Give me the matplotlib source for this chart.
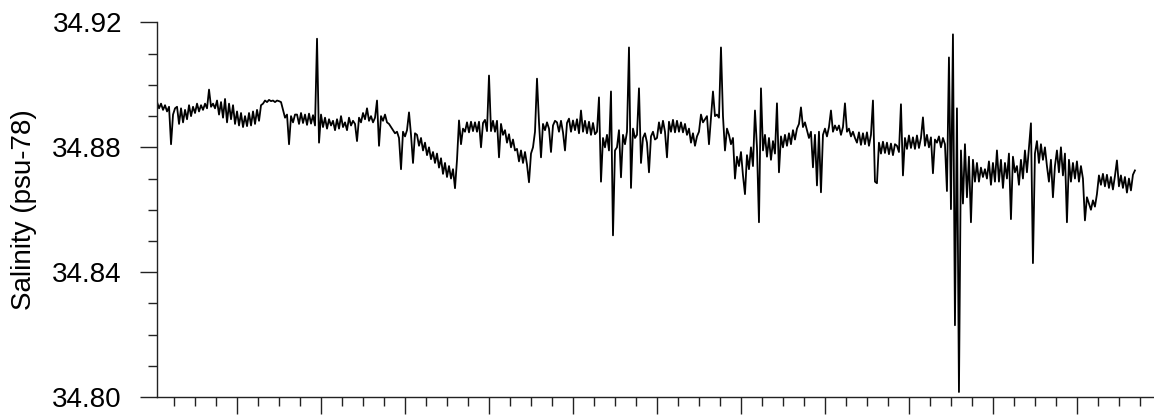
import numpy as np
import matplotlib
matplotlib.use("Agg")
import matplotlib.pyplot as plt
from matplotlib.ticker import MultipleLocator, FormatStrFormatter

plt.rcParams['font.family'] = ['Liberation Sans', 'DejaVu Sans']

sal_west = [
    34.8945, 34.8925, 34.8940, 34.8920, 34.8935, 34.8915, 34.8930, 34.8810, 34.8905, 34.8925,
    34.8930, 34.8875, 34.8925, 34.8880, 34.8920, 34.8890, 34.8935, 34.8900, 34.8930, 34.8910,
    34.8940, 34.8915, 34.8935, 34.8920, 34.8940, 34.8925, 34.8985, 34.8930, 34.8940, 34.8925,
    34.8950, 34.8905, 34.8945, 34.8895, 34.8955, 34.8880, 34.8940, 34.8890, 34.8935, 34.8875,
    34.8915, 34.8870, 34.8910, 34.8865, 34.8900, 34.8868, 34.8910, 34.8870, 34.8915, 34.8875,
    34.8920, 34.8885, 34.8935, 34.8940, 34.8950, 34.8945, 34.8952, 34.8948, 34.8950, 34.8945,
    34.8950, 34.8948, 34.8945, 34.8920, 34.8895, 34.8905, 34.8810, 34.8900, 34.8880, 34.8905,
    34.8905, 34.8875, 34.8910, 34.8878, 34.8905, 34.8872, 34.8908, 34.8876, 34.8903, 34.8870,
    34.9148, 34.8815, 34.8905, 34.8865, 34.8895, 34.8860, 34.8890, 34.8870, 34.8885, 34.8855,
    34.8890, 34.8860, 34.8900, 34.8865, 34.8880, 34.8855, 34.8895, 34.8870, 34.8885, 34.8875,
    34.8820, 34.8895, 34.8880, 34.8910, 34.8890, 34.8925, 34.8885, 34.8900, 34.8880, 34.8895,
    34.8950, 34.8805, 34.8900, 34.8885, 34.8905, 34.8880, 34.8875, 34.8865, 34.8855, 34.8845,
    34.8850, 34.8830, 34.8730, 34.8850, 34.8835, 34.8855, 34.8912, 34.8840, 34.8750, 34.8845,
    34.8840, 34.8805, 34.8830, 34.8790, 34.8815, 34.8775, 34.8800, 34.8762, 34.8785, 34.8750,
    34.8780, 34.8735, 34.8765, 34.8715, 34.8750, 34.8705, 34.8740, 34.8700, 34.8730, 34.8669,
    34.8760, 34.8886, 34.8810, 34.8860, 34.8850, 34.8880, 34.8848, 34.8882, 34.8852, 34.8880,
]
sal_mid = [
    34.8850, 34.8882, 34.8800, 34.8878, 34.8888, 34.8852, 34.9030, 34.8852, 34.8885, 34.8850,
    34.8885, 34.8768, 34.8875, 34.8840, 34.8855, 34.8815, 34.8842, 34.8800, 34.8825, 34.8790,
    34.8795, 34.8755, 34.8790, 34.8750, 34.8785, 34.8745, 34.8688, 34.8780, 34.8800, 34.8850,
    34.9020, 34.8880, 34.8768, 34.8875, 34.8855, 34.8880, 34.8860, 34.8785, 34.8870, 34.8885,
    34.8880, 34.8850, 34.8885, 34.8848, 34.8790, 34.8878, 34.8892, 34.8850, 34.8886, 34.8855,
    34.8890, 34.8845, 34.8918, 34.8850, 34.8885, 34.8845, 34.8882, 34.8840, 34.8878, 34.8842,
    34.8850, 34.8960, 34.8690, 34.8830, 34.8800, 34.8840, 34.8790, 34.8979, 34.8518, 34.8790,
    34.8800, 34.8855, 34.8704, 34.8840, 34.8810, 34.8850, 34.9120, 34.8670, 34.8860, 34.8830,
    34.8840, 34.8989, 34.8750, 34.8830, 34.8845, 34.8815, 34.8720, 34.8835, 34.8850, 34.8825,
    34.8830, 34.8880, 34.8845, 34.8885, 34.8850, 34.8768, 34.8882, 34.8850, 34.8888, 34.8848,
    34.8885, 34.8850, 34.8880, 34.8848, 34.8875, 34.8840, 34.8860, 34.8815, 34.8845, 34.8805,
    34.8835, 34.8850, 34.8905, 34.8880, 34.8890, 34.8900, 34.8810, 34.8895, 34.8979, 34.8900,
    34.8905, 34.8895, 34.9120, 34.8900, 34.8790, 34.8860, 34.8840, 34.8810, 34.8830, 34.8700,
    34.8770, 34.8740, 34.8785, 34.8710, 34.8650, 34.8775, 34.8730, 34.8800, 34.8740, 34.8918,
    34.8800, 34.8560, 34.8989, 34.8790, 34.8840, 34.8770, 34.8830, 34.8760, 34.8820, 34.8780,
    34.8941, 34.8720, 34.8835, 34.8800, 34.8840, 34.8805, 34.8845, 34.8810, 34.8855, 34.8825,
]
sal_east = [
    34.8860, 34.8875, 34.8928, 34.8865, 34.8880, 34.8855, 34.8830, 34.8850, 34.8736, 34.8840,
    34.8678, 34.8850, 34.8656, 34.8840, 34.8860, 34.8835, 34.8865, 34.8918, 34.8850, 34.8870,
    34.8855, 34.8870, 34.8840, 34.8865, 34.8941, 34.8850, 34.8860, 34.8835, 34.8850, 34.8830,
    34.8815, 34.8848, 34.8808, 34.8845, 34.8810, 34.8848, 34.8805, 34.8840, 34.8950, 34.8690,
    34.8685, 34.8815, 34.8780, 34.8818, 34.8782, 34.8815, 34.8778, 34.8812, 34.8775, 34.8810,
    34.8805, 34.8785, 34.8938, 34.8710, 34.8830, 34.8795, 34.8838, 34.8798, 34.8832, 34.8795,
    34.8838, 34.8798, 34.8830, 34.8896, 34.8805, 34.8840, 34.8800, 34.8832, 34.8717, 34.8825,
    34.8815, 34.8835, 34.8800, 34.8830, 34.8810, 34.8660, 34.9088, 34.8602, 34.9162, 34.8230,
    34.8925, 34.8016, 34.8790, 34.8620, 34.8810, 34.8640, 34.8770, 34.8560, 34.8760, 34.8690,
    34.8750, 34.8690, 34.8735, 34.8705, 34.8730, 34.8700, 34.8755, 34.8680, 34.8750, 34.8690,
    34.8790, 34.8690, 34.8760, 34.8670, 34.8750, 34.8700, 34.8780, 34.8570, 34.8770, 34.8720,
    34.8740, 34.8680, 34.8760, 34.8700, 34.8790, 34.8720, 34.8800, 34.8877, 34.8429, 34.8780,
    34.8820, 34.8750, 34.8810, 34.8760, 34.8800, 34.8740, 34.8690, 34.8760, 34.8640, 34.8740,
    34.8790, 34.8720, 34.8800, 34.8710, 34.8780, 34.8560, 34.8760, 34.8690, 34.8750, 34.8700,
    34.8755, 34.8690, 34.8740, 34.8700, 34.8566, 34.8640, 34.8620, 34.8600, 34.8630, 34.8610,
    34.8650, 34.8710, 34.8680, 34.8715, 34.8675, 34.8712, 34.8670, 34.8705, 34.8665, 34.8708,
    34.8758, 34.8675, 34.8710, 34.8670, 34.8705, 34.8655, 34.8700, 34.8662, 34.8712, 34.8726,
]

# record start / end (axis units, one major tick per unit)
t_first = 0.048
t_last = 11.69

y_ticks = [34.80, 34.84, 34.88, 34.92]

#%%
sal = np.array(sal_west + sal_mid + sal_east)
t = np.linspace(t_first, t_last, len(sal))

fig = plt.figure(figsize=(11.54, 4.15), dpi=100)
ax = fig.add_axes([156.7 / 1154, 18 / 415, 1 - 156.7 / 1154, 374.5 / 415])

ax.plot(t, sal, color='black', linewidth=1.3)

ax.set_xlim(0.044, 11.917)
ax.set_ylim(34.80, 34.92)

ax.set_yticks(y_ticks)
ax.yaxis.set_major_formatter(FormatStrFormatter('%.2f'))
ax.yaxis.set_minor_locator(MultipleLocator(0.01))
ax.xaxis.set_major_locator(MultipleLocator(1))
ax.xaxis.set_minor_locator(MultipleLocator(0.25))
ax.set_xticklabels([])

ax.spines['top'].set_visible(False)
ax.spines['right'].set_visible(False)
for s in ('left', 'bottom'):
    ax.spines[s].set_linewidth(1.0)
    ax.spines[s].set_color('#222222')

ax.tick_params(which='major', direction='out', length=12, width=1.0,
               color='#222222', labelsize=20, pad=13)
ax.tick_params(which='minor', direction='out', length=6.5, width=1.0,
               color='#222222')

fig.text(24 / 1154, 0.494, 'Salinity (psu-78)', rotation=90,
         ha='center', va='center', fontsize=20)

fig.savefig('out.png', dpi=100)
